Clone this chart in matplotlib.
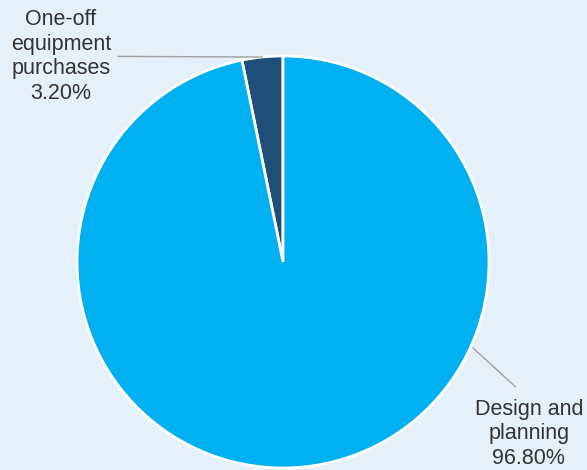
import matplotlib.pyplot as plt

labels = ["One-off\nequipment\npurchases", "Design and\nplanning"]
values = [3.2, 96.8]
colors = ["#1f4e79", "#00b0f0"]

bg = "#e4f0fa"
plt.rcParams['font.family'] = ['Liberation Sans', 'DejaVu Sans']

fig = plt.figure(figsize=(5.87, 4.70), dpi=100, facecolor=bg)
ax = fig.add_axes([0.1312, 0.0043, 0.7019, 0.8766])
ax.set_facecolor(bg)

ax.pie(values, colors=colors, startangle=90, counterclock=True,
       wedgeprops=dict(edgecolor="white", linewidth=2))
ax.set_xlim(-1, 1)
ax.set_ylim(-1, 1)
ax.set_aspect('equal')
ax.axis('off')

# labels with leader lines
txt = [f"{l}\n{v:.2f}%" for l, v in zip(labels, values)]
ax.annotate(txt[0], xy=(-0.10, 0.995), xytext=(-1.078, 0.998),
            ha="center", va="center", fontsize=15.5, color="#333333",
            linespacing=1.22, annotation_clip=False,
            arrowprops=dict(arrowstyle="-", color="#a0a0a0", lw=1,
                            shrinkA=3, shrinkB=0, relpos=(1.0, 0.5)))
ax.annotate(txt[1], xy=(0.922, -0.417), xytext=(1.193, -0.835),
            ha="center", va="center", fontsize=15.5, color="#333333",
            linespacing=1.22, annotation_clip=False,
            arrowprops=dict(arrowstyle="-", color="#a0a0a0", lw=1,
                            shrinkA=10, shrinkB=0, relpos=(0.5, 1.0)))

fig.savefig("out.png", dpi=100, facecolor=bg)
